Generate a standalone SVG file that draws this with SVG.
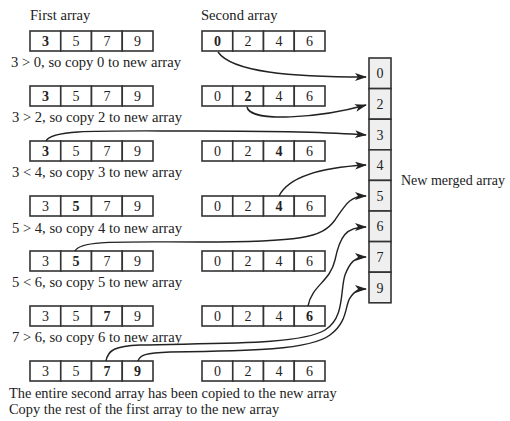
<svg xmlns="http://www.w3.org/2000/svg" width="510" height="421" viewBox="0 0 510 421">
<style>
text{font-family:"Liberation Serif","Times New Roman",serif;fill:#222}
.lbl{font-size:14.6px}
.bot{font-size:14.4px}
.num{font-size:14px;text-anchor:middle}
.b{font-weight:bold}
.cell{fill:#fff;stroke:#333;stroke-width:1.6}
.mcell{fill:#efefef;stroke:#333;stroke-width:1.6}
.con{fill:none;stroke:#222;stroke-width:1.4;marker-end:url(#ah)}
</style>
<defs>
<marker id="ah" viewBox="0 0 12 8" refX="11" refY="4" markerWidth="12" markerHeight="8" markerUnits="userSpaceOnUse" orient="auto">
<path d="M0,0 L12,4 L0,8 L3,4 z" fill="#222"/>
</marker>
<g id="row">
<rect class="cell" x="0" y="0" width="30.75" height="20"/>
<rect class="cell" x="30.75" y="0" width="30.75" height="20"/>
<rect class="cell" x="61.5" y="0" width="30.75" height="20"/>
<rect class="cell" x="92.25" y="0" width="30.75" height="20"/>
</g>
</defs>
<rect width="510" height="421" fill="#fff"/>
<text class="lbl" x="30" y="20">First array</text>
<text class="lbl" x="201" y="20">Second array</text>
<text class="num" x="401" y="185" style="text-anchor:start">New merged array</text>

<g id="first1" transform="translate(30,31)"><use href="#row"/><text class="num b" x="15.4" y="15">3</text><text class="num" x="46.1" y="15">5</text><text class="num" x="76.9" y="15">7</text><text class="num" x="107.6" y="15">9</text></g>
<g id="second1" transform="translate(202,31)"><use href="#row"/><text class="num b" x="15.4" y="15">0</text><text class="num" x="46.1" y="15">2</text><text class="num" x="76.9" y="15">4</text><text class="num" x="107.6" y="15">6</text></g>
<text class="lbl" x="11" y="67">3 &gt; 0, so copy 0 to new array</text>

<g id="first2" transform="translate(30,86)"><use href="#row"/><text class="num b" x="15.4" y="15">3</text><text class="num" x="46.1" y="15">5</text><text class="num" x="76.9" y="15">7</text><text class="num" x="107.6" y="15">9</text></g>
<g id="second2" transform="translate(202,86)"><use href="#row"/><text class="num" x="15.4" y="15">0</text><text class="num b" x="46.1" y="15">2</text><text class="num" x="76.9" y="15">4</text><text class="num" x="107.6" y="15">6</text></g>
<text class="lbl" x="12" y="122">3 &gt; 2, so copy 2 to new array</text>

<g id="first3" transform="translate(30,141)"><use href="#row"/><text class="num b" x="15.4" y="15">3</text><text class="num" x="46.1" y="15">5</text><text class="num" x="76.9" y="15">7</text><text class="num" x="107.6" y="15">9</text></g>
<g id="second3" transform="translate(202,141)"><use href="#row"/><text class="num" x="15.4" y="15">0</text><text class="num" x="46.1" y="15">2</text><text class="num b" x="76.9" y="15">4</text><text class="num" x="107.6" y="15">6</text></g>
<text class="lbl" x="12" y="177">3 &lt; 4, so copy 3 to new array</text>

<g id="first4" transform="translate(30,196)"><use href="#row"/><text class="num" x="15.4" y="15">3</text><text class="num b" x="46.1" y="15">5</text><text class="num" x="76.9" y="15">7</text><text class="num" x="107.6" y="15">9</text></g>
<g id="second4" transform="translate(202,196)"><use href="#row"/><text class="num" x="15.4" y="15">0</text><text class="num" x="46.1" y="15">2</text><text class="num b" x="76.9" y="15">4</text><text class="num" x="107.6" y="15">6</text></g>
<text class="lbl" x="12" y="233">5 &gt; 4, so copy 4 to new array</text>

<g id="first5" transform="translate(30,251)"><use href="#row"/><text class="num" x="15.4" y="15">3</text><text class="num b" x="46.1" y="15">5</text><text class="num" x="76.9" y="15">7</text><text class="num" x="107.6" y="15">9</text></g>
<g id="second5" transform="translate(202,251)"><use href="#row"/><text class="num" x="15.4" y="15">0</text><text class="num" x="46.1" y="15">2</text><text class="num" x="76.9" y="15">4</text><text class="num" x="107.6" y="15">6</text></g>
<text class="lbl" x="12" y="287">5 &lt; 6, so copy 5 to new array</text>

<g id="first6" transform="translate(30,306)"><use href="#row"/><text class="num" x="15.4" y="15">3</text><text class="num" x="46.1" y="15">5</text><text class="num b" x="76.9" y="15">7</text><text class="num" x="107.6" y="15">9</text></g>
<g id="second6" transform="translate(202,306)"><use href="#row"/><text class="num" x="15.4" y="15">0</text><text class="num" x="46.1" y="15">2</text><text class="num" x="76.9" y="15">4</text><text class="num b" x="107.6" y="15">6</text></g>
<text class="lbl" x="12" y="342">7 &gt; 6, so copy 6 to new array</text>

<g id="first7" transform="translate(30,361)"><use href="#row"/><text class="num" x="15.4" y="15">3</text><text class="num" x="46.1" y="15">5</text><text class="num b" x="76.9" y="15">7</text><text class="num b" x="107.6" y="15">9</text></g>
<g id="second7" transform="translate(202,361)"><use href="#row"/><text class="num" x="15.4" y="15">0</text><text class="num" x="46.1" y="15">2</text><text class="num" x="76.9" y="15">4</text><text class="num" x="107.6" y="15">6</text></g>
<text class="bot" x="9" y="398">The entire second array has been copied to the new array</text>
<text class="bot" x="9" y="414">Copy the rest of the first array to the new array</text>

<g id="merged" transform="translate(369,58)">
<rect class="mcell" x="0" y="0" width="22" height="30.6"/>
<rect class="mcell" x="0" y="30.6" width="22" height="30.6"/>
<rect class="mcell" x="0" y="61.2" width="22" height="30.6"/>
<rect class="mcell" x="0" y="91.8" width="22" height="30.6"/>
<rect class="mcell" x="0" y="122.4" width="22" height="30.6"/>
<rect class="mcell" x="0" y="153" width="22" height="30.6"/>
<rect class="mcell" x="0" y="183.6" width="22" height="30.6"/>
<rect class="mcell" x="0" y="214.2" width="22" height="30.6"/>
<text class="num" x="11" y="20.3">0</text>
<text class="num" x="11" y="50.9">2</text>
<text class="num" x="11" y="81.5">3</text>
<text class="num" x="11" y="112.1">4</text>
<text class="num" x="11" y="142.7">5</text>
<text class="num" x="11" y="173.3">6</text>
<text class="num" x="11" y="203.9">7</text>
<text class="num" x="11" y="234.5">9</text>
</g>

<g id="connectors">
<path class="con" d="M218,52 C232,72 290,77 366,77"/>
<path class="con" d="M247,107 C250,123 320,118 366,105"/>
<path class="con" d="M46,141 C52,129 100,131 200,131 C290,131 340,133 366,135"/>
<path class="con" d="M279,196 C290,174 330,167 366,165"/>
<path class="con" d="M75,251 C80,240 120,242 200,242 C300,242 322,238 335,220 C346,204 350,196 366,196"/>
<path class="con" d="M308,306 C312,285 330,282 335,260 C340,236 346,227 366,227"/>
<path class="con" d="M106,361 C108,350 115,346 140,345 C220,343 300,345 325,330 C345,318 340,290 345,275 C350,262 355,257 366,257"/>
<path class="con" d="M138,361 C140,355 145,353 170,352 C250,351 310,350 330,335 C348,322 345,305 350,298 C355,290 360,289 366,289"/>
</g>
</svg>
